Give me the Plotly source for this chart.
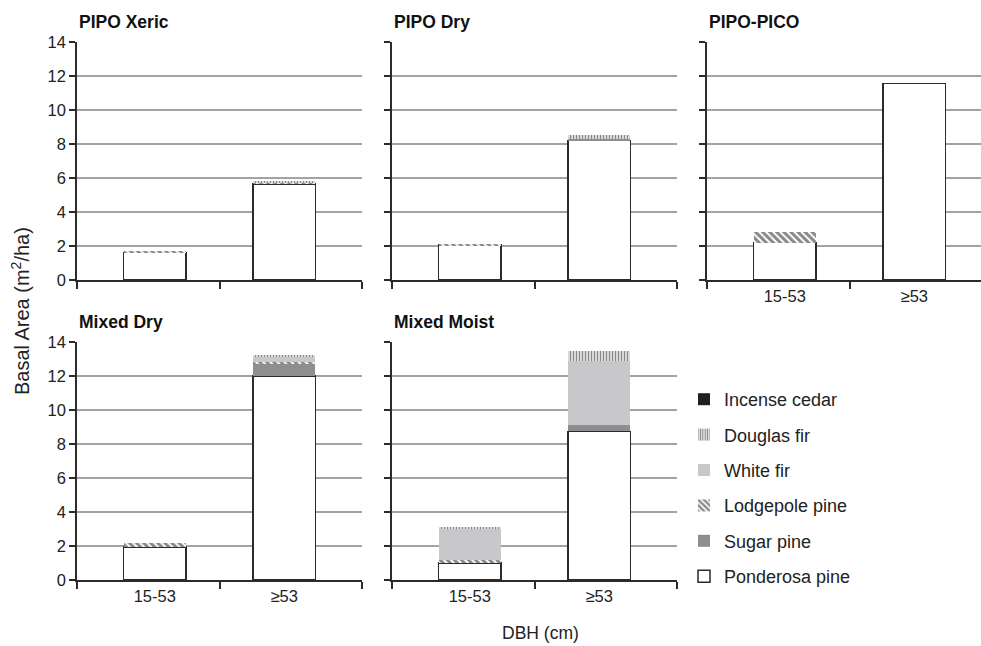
import plotly.graph_objects as go

categories = ["15-53", "≥53"]
panels = ["PIPO Xeric", "PIPO Dry", "PIPO-PICO", "Mixed Dry", "Mixed Moist"]
species = ["Ponderosa pine", "Sugar pine", "Lodgepole pine", "White fir", "Douglas fir", "Incense cedar"]

# values per panel: [15-53, >=53]
ponderosa = [[1.62, 5.65], [2.05, 8.2], [2.2, 11.55], [1.95, 12.0], [1.0, 8.75]]
sugar = [[0, 0], [0, 0.1], [0, 0], [0, 0.75], [0, 0.35]]
lodgepole = [[0.03, 0.08], [0.07, 0], [0.6, 0], [0.25, 0.08], [0.2, 0]]
white_fir = [[0, 0], [0, 0], [0, 0], [0, 0.3], [1.8, 3.8]]
douglas = [[0, 0.12], [0, 0.25], [0, 0], [0, 0.07], [0.1, 0.6]]
incense = [[0, 0], [0, 0], [0, 0], [0, 0], [0, 0]]

values = [ponderosa, sugar, lodgepole, white_fir, douglas, incense]

FONT = "Liberation Sans, Arial, sans-serif"
DARK = "#2b2b2b"

styles = {
    "Ponderosa pine": dict(color="white", line=dict(color=DARK, width=1.5)),
    "Sugar pine": dict(color="#8e8e90", line=dict(width=0)),
    "Lodgepole pine": dict(color="white", line=dict(width=0),
                           pattern=dict(shape="\\", fgcolor="#111", bgcolor="white", size=5, solidity=0.6)),
    "White fir": dict(color="#c8c8ca", line=dict(width=0)),
    "Douglas fir": dict(color="white", line=dict(width=0),
                        pattern=dict(shape="|", fgcolor="#111", bgcolor="white", size=3, solidity=0.55)),
    "Incense cedar": dict(color="#231f20", line=dict(width=0)),
}

W, H = 981, 646
def px(x):
    return x / W
def py(y):
    return 1 - y / H

col_dom = [[px(77), px(362)], [px(392), px(677)], [px(707), 1.0]]
row_dom = [[py(280), py(42)], [py(580), py(342)]]
panel_pos = [(0, 0), (0, 1), (0, 2), (1, 0), (1, 1)]
xranges = [[-0.6, 1.6], [-0.6, 1.6], [-0.6, 1.515], [-0.6, 1.6], [-0.6, 1.6]]
show_xlabels = [False, False, True, True, True]
show_ylabels = [True, False, False, True, False]

fig = go.Figure()
xnum = [0, 1]
for p in range(len(panels)):
    sfx = "" if p == 0 else str(p + 1)
    for s, name in enumerate(species):
        fig.add_trace(go.Bar(
            x=xnum, y=values[s][p], name=name, width=0.48,
            marker=styles[name], legendgroup=name, showlegend=(p == 0),
            legendrank=len(species) - s,
            xaxis="x" + sfx, yaxis="y" + sfx,
        ))

layout = dict(
    width=W, height=H, barmode="stack", plot_bgcolor="white", paper_bgcolor="white",
    margin=dict(l=0, r=0, t=0, b=0),
    font=dict(family=FONT, size=16, color="#222"),
    legend=dict(x=px(684), y=py(381), xanchor="left", yanchor="top",
                traceorder="grouped", tracegroupgap=9,
                font=dict(family=FONT, size=18, color="#222"), itemwidth=30),
    annotations=[],
)

for p, (r, c) in enumerate(panel_pos):
    sfx = "" if p == 0 else str(p + 1)
    layout["xaxis" + sfx] = dict(
        domain=col_dom[c], range=xranges[p], anchor="y" + sfx,
        tickmode="array", tickvals=xnum, ticktext=categories,
        showticklabels=show_xlabels[p], ticks="", showgrid=False, zeroline=False,
        showline=True, linecolor=DARK, linewidth=1.5, automargin=False,
        tickfont=dict(size=16.5, color="#222"),
        minor=dict(tickmode="array", tickvals=[-0.599, 0.5, xranges[p][1] - 0.001] if p != 2 else [-0.599, 0.5],
                   ticks="outside", ticklen=7, tickwidth=1.5, tickcolor=DARK, showgrid=False),
        fixedrange=True,
    )
    layout["yaxis" + sfx] = dict(
        domain=row_dom[r], range=[0, 14], anchor="x" + sfx, dtick=2, tick0=0,
        showticklabels=show_ylabels[p], ticks="outside", ticklen=6, tickwidth=1.5, tickcolor=DARK,
        showgrid=True, gridcolor="#a3a3a5", gridwidth=1.5, zeroline=False,
        showline=True, linecolor=DARK, linewidth=1.5, automargin=False,
        tickfont=dict(size=16.5, color="#222"), fixedrange=True,
    )
    title_y = 22 if r == 0 else 322
    layout["annotations"].append(dict(
        text="<b>" + panels[p] + "</b>", x=col_dom[c][0], y=py(title_y), xref="paper", yref="paper",
        xanchor="left", yanchor="middle", showarrow=False, font=dict(family=FONT, size=17.5, color="#111")))

layout["annotations"].append(dict(
    text="Basal Area (m<sup>2</sup>/ha)", x=px(20), y=py(311), xref="paper", yref="paper",
    textangle=-90, showarrow=False, xanchor="center", yanchor="middle",
    font=dict(family=FONT, size=20, color="#222")))
layout["annotations"].append(dict(
    text="DBH (cm)", x=px(540), y=py(633), xref="paper", yref="paper",
    showarrow=False, xanchor="center", yanchor="middle",
    font=dict(family=FONT, size=17.5, color="#222")))

fig.update_layout(**layout)
fig.write_html("out.html", config={"displayModeBar": False},
               post_script="document.body.style.margin='0';document.body.style.overflow='hidden';")
